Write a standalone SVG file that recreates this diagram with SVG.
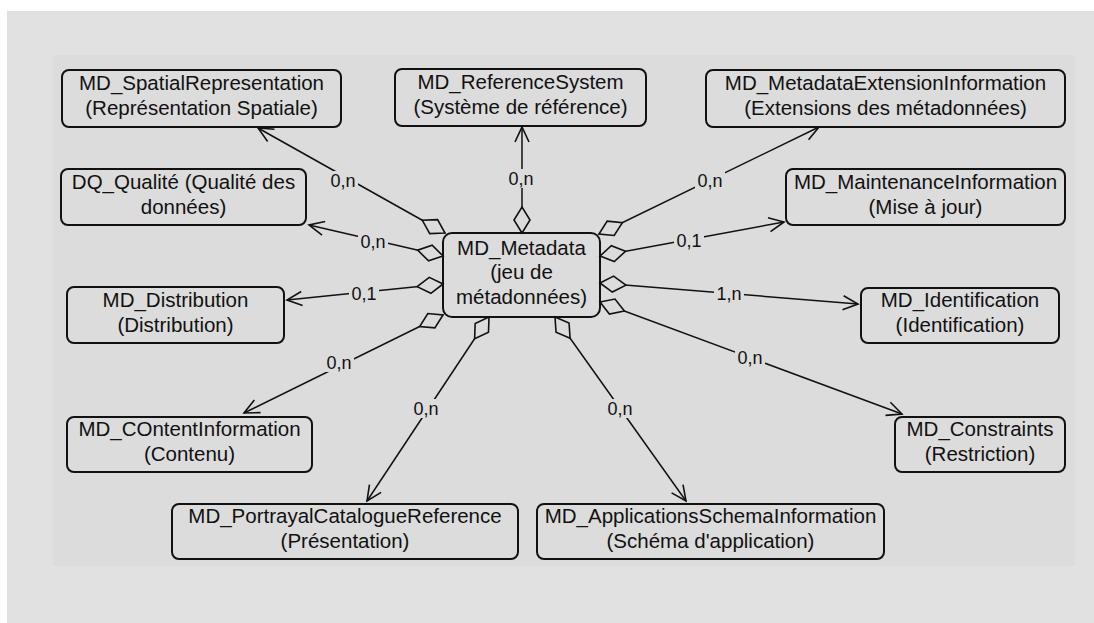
<svg xmlns="http://www.w3.org/2000/svg" width="1094" height="623" viewBox="0 0 1094 623">
<style>
.box{fill:none;stroke:#111;stroke-width:2}
.t{font-family:"Liberation Sans",Arial,sans-serif;font-size:20.5px;fill:#111;text-anchor:middle}
.c{fill:none;stroke:#111;stroke-width:1.5;marker-start:url(#dia);marker-end:url(#arr)}
.lb{font-family:"Liberation Sans",Arial,sans-serif;font-size:18px;fill:#111;text-anchor:middle}
.bg{fill:#dcdcdc}
</style>
<defs>
<marker id="dia" markerUnits="userSpaceOnUse" markerWidth="30" markerHeight="20" refX="0" refY="0" orient="auto" overflow="visible">
<path d="M0,0 L13,-8 L26,0 L13,8 Z" fill="#dcdcdc" stroke="#111" stroke-width="1.6"/>
</marker>
<marker id="arr" markerUnits="userSpaceOnUse" markerWidth="20" markerHeight="20" refX="0" refY="0" orient="auto" overflow="visible">
<path d="M-15,-7 L0,0 L-15,7" fill="none" stroke="#111" stroke-width="1.6"/>
</marker>
</defs>
<rect x="0" y="0" width="1094" height="623" fill="#ffffff"/>
<rect x="7" y="11" width="1087" height="612" fill="#e1e1e1"/>
<rect x="53" y="55" width="1022" height="511" fill="#dcdcdc"/>

<g id="connectors">
<path class="c" d="M445,233 L258,128"/>
<path class="c" d="M522,233 L522,127"/>
<path class="c" d="M443,256 L309,225"/>
<path class="c" d="M443,284 L287,300"/>
<path class="c" d="M443,315 L244,413"/>
<path class="c" d="M489,317 L367,501"/>
<path class="c" d="M555,317 L686,501"/>
<path class="c" d="M600,302 L902,414"/>
<path class="c" d="M600,283 L858,304"/>
<path class="c" d="M600,256 L784,222"/>
<path class="c" d="M599,234 L819,127"/>
<rect class="bg" x="328" y="171" width="30" height="19"/>
<rect class="bg" x="506" y="169" width="30" height="19"/>
<rect class="bg" x="358" y="232" width="30" height="19"/>
<rect class="bg" x="349" y="284" width="30" height="19"/>
<rect class="bg" x="324" y="353" width="30" height="19"/>
<rect class="bg" x="411" y="399" width="30" height="19"/>
<rect class="bg" x="605" y="399" width="30" height="19"/>
<rect class="bg" x="735" y="348" width="30" height="19"/>
<rect class="bg" x="714" y="284" width="30" height="19"/>
<rect class="bg" x="674" y="231" width="30" height="19"/>
<rect class="bg" x="695" y="171" width="30" height="19"/>
<text class="lb" x="343" y="187">0,n</text>
<text class="lb" x="521" y="185">0,n</text>
<text class="lb" x="373" y="248">0,n</text>
<text class="lb" x="364" y="300">0,1</text>
<text class="lb" x="339" y="369">0,n</text>
<text class="lb" x="426" y="415">0,n</text>
<text class="lb" x="620" y="415">0,n</text>
<text class="lb" x="750" y="364">0,n</text>
<text class="lb" x="729" y="300">1,n</text>
<text class="lb" x="689" y="247">0,1</text>
<text class="lb" x="710" y="187">0,n</text>
</g>

<g id="spatial">
<rect class="box" x="62" y="70" width="279" height="57" rx="7"/>
<text class="t" x="201.5" y="90">MD_SpatialRepresentation</text>
<text class="t" x="201.5" y="115">(Représentation Spatiale)</text>
</g>
<g id="reference">
<rect class="box" x="395" y="69" width="251" height="57" rx="7"/>
<text class="t" x="520.5" y="89">MD_ReferenceSystem</text>
<text class="t" x="520.5" y="114">(Système de référence)</text>
</g>
<g id="extension">
<rect class="box" x="706" y="70" width="359" height="57" rx="7"/>
<text class="t" x="885.5" y="90">MD_MetadataExtensionInformation</text>
<text class="t" x="885.5" y="115">(Extensions des métadonnées)</text>
</g>
<g id="qualite">
<rect class="box" x="61" y="169" width="245" height="56" rx="7"/>
<text class="t" x="183.5" y="189">DQ_Qualité (Qualité des</text>
<text class="t" x="183.5" y="214">données)</text>
</g>
<g id="maintenance">
<rect class="box" x="786" y="169" width="279" height="56" rx="7"/>
<text class="t" x="925.5" y="189">MD_MaintenanceInformation</text>
<text class="t" x="925.5" y="214">(Mise à jour)</text>
</g>
<g id="metadata">
<rect class="box" x="443" y="233" width="157" height="84" rx="9"/>
<text class="t" x="521.5" y="255">MD_Metadata</text>
<text class="t" x="521.5" y="279">(jeu de</text>
<text class="t" x="521.5" y="304">métadonnées)</text>
</g>
<g id="distribution">
<rect class="box" x="67" y="287" width="217" height="56" rx="7"/>
<text class="t" x="175.5" y="307">MD_Distribution</text>
<text class="t" x="175.5" y="332">(Distribution)</text>
</g>
<g id="identification">
<rect class="box" x="861" y="288" width="198" height="55" rx="7"/>
<text class="t" x="960" y="307">MD_Identification</text>
<text class="t" x="960" y="332">(Identification)</text>
</g>
<g id="content">
<rect class="box" x="67" y="417" width="245" height="55" rx="7"/>
<text class="t" x="189.5" y="436">MD_COntentInformation</text>
<text class="t" x="189.5" y="461">(Contenu)</text>
</g>
<g id="constraints">
<rect class="box" x="895" y="417" width="170" height="55" rx="7"/>
<text class="t" x="980" y="436">MD_Constraints</text>
<text class="t" x="980" y="461">(Restriction)</text>
</g>
<g id="portrayal">
<rect class="box" x="172" y="504" width="346" height="55" rx="7"/>
<text class="t" x="345" y="523">MD_PortrayalCatalogueReference</text>
<text class="t" x="345" y="548">(Présentation)</text>
</g>
<g id="applications">
<rect class="box" x="537" y="504" width="347" height="55" rx="7"/>
<text class="t" x="710.5" y="523">MD_ApplicationsSchemaInformation</text>
<text class="t" x="710.5" y="548">(Schéma d'application)</text>
</g>
</svg>
